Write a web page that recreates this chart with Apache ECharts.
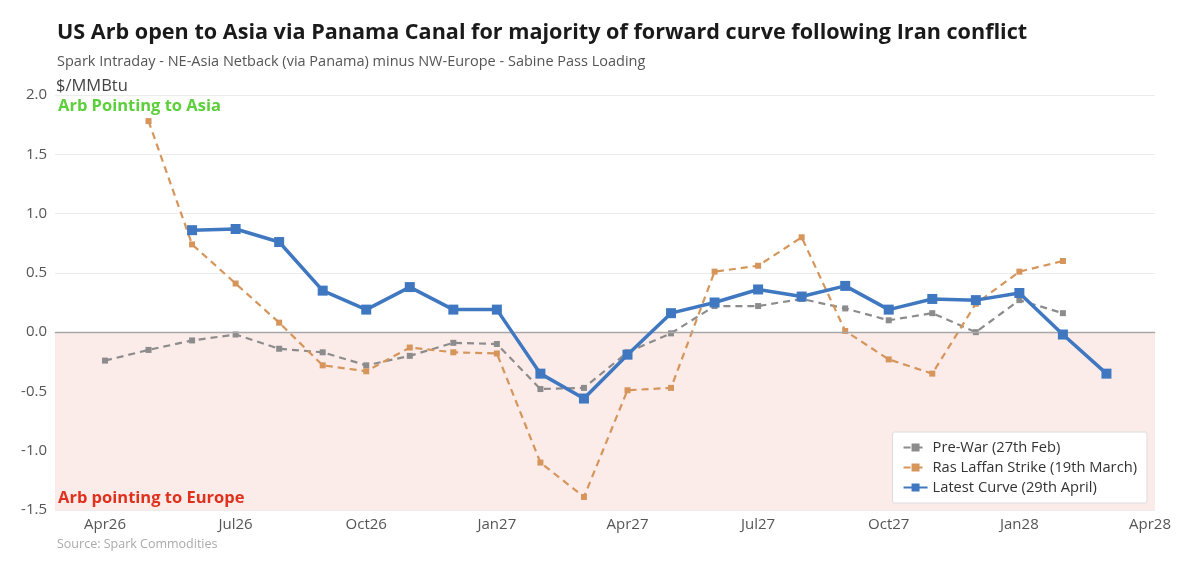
<!DOCTYPE html>
<html>
<head>
<meta charset="utf-8">
<script src="https://cdn.jsdelivr.net/npm/echarts@6/dist/echarts.min.js"></script>
<style>html,body{margin:0;padding:0;background:#fff;}#c{width:1200px;height:568px;}</style>
</head>
<body>
<div id="c"></div>
<script>
var months = ['Apr26','May26','Jun26','Jul26','Aug26','Sep26','Oct26','Nov26','Dec26','Jan27','Feb27','Mar27','Apr27','May27','Jun27','Jul27','Aug27','Sep27','Oct27','Nov27','Dec27','Jan28','Feb28','Mar28'];
var xTickLabels = ['Apr26','Jul26','Oct26','Jan27','Apr27','Jul27','Oct27','Jan28','Apr28'];
var preWar = [-0.24,-0.15,-0.07,-0.02,-0.14,-0.17,-0.28,-0.20,-0.09,-0.10,-0.48,-0.47,-0.17,-0.01,0.22,0.22,0.28,0.20,0.10,0.16,0.00,0.27,0.16,null];
var rasLaffan = [null,1.78,0.74,0.41,0.08,-0.28,-0.33,-0.13,-0.17,-0.18,-1.10,-1.39,-0.49,-0.47,0.51,0.56,0.80,0.01,-0.23,-0.35,0.24,0.51,0.60,null];
var latest = [null,null,0.86,0.87,0.76,0.35,0.19,0.38,0.19,0.19,-0.35,-0.56,-0.19,0.16,0.25,0.36,0.30,0.39,0.19,0.28,0.27,0.33,-0.02,-0.35];
var seriesNames = ['Pre-War (27th Feb)','Ras Laffan Strike (19th March)','Latest Curve (29th April)'];

var FONT = 'Open Sans';
function pairs(arr){ return arr.map(function(v,i){ return [i, v]; }); }
var tickIdx = xTickLabels.map(function(_,i){ return i*3; });
function txt(t, left, top, size, weight, color){
  return {text:t, left:left, top:top, padding:0, z:20,
    textStyle:{fontFamily:FONT, fontSize:size, fontWeight:weight, color:color}};
}

var chart = echarts.init(document.getElementById('c'), null, {renderer:'canvas'});
chart.setOption({
  backgroundColor:'#fff',
  animation:false,
  textStyle:{fontFamily:FONT},
  title:[
    txt('US Arb open to Asia via Panama Canal for majority of forward curve following Iran conflict', 57, 22, 21.6, 'bold', '#1a1a1a'),
    txt('Spark Intraday - NE-Asia Netback (via Panama) minus NW-Europe - Sabine Pass Loading', 57, 54, 14.5, 'normal', '#555'),
    txt('$/MMBtu', 56, 78, 16.5, 'normal', '#444'),
    txt('Arb Pointing to Asia', 58, 98, 16.5, 'bold', '#5ccf3a'),
    txt('Arb pointing to Europe', 58, 490, 16.5, 'bold', '#e0301e'),
    txt('Source: Spark Commodities', 57, 538, 12.5, 'normal', '#aaa')
  ],
  legend:{
    orient:'vertical', right:53, top:432, data:seriesNames,
    backgroundColor:'#fff', borderColor:'#ddd', borderWidth:1, borderRadius:2,
    padding:[8,10,8,10], itemGap:5, itemWidth:24, itemHeight:10,
    textStyle:{fontFamily:FONT, fontSize:14.7, color:'#333'}
  },
  grid:{left:55, right:45, top:95, bottom:58, containLabel:false},
  xAxis:{
    type:'value', min:-1.148, max:24.115,
    axisLine:{show:true, lineStyle:{color:'#c8c8c8', width:1}},
    axisTick:{show:false},
    splitLine:{show:false},
    axisLabel:{customValues:tickIdx, color:'#555', fontSize:15, fontFamily:FONT, margin:7,
      formatter:function(v){ var k=Math.round(v/3); return xTickLabels[k]||''; }}
  },
  yAxis:{
    type:'value', min:-1.5, max:2.0, interval:0.5,
    axisLine:{show:false}, axisTick:{show:false},
    splitLine:{lineStyle:{color:'#ececec', width:1}},
    axisLabel:{color:'#555', fontSize:15, fontFamily:FONT, margin:8,
      formatter:function(v){ return v.toFixed(1); }}
  },
  series:[
    {name:seriesNames[0], type:'line', data:pairs(preWar), z:3,
     symbol:'rect', symbolSize:6, showSymbol:true,
     itemStyle:{color:'#8c8c8c'}, lineStyle:{color:'#8c8c8c', width:2.2, type:[7,5]},
     markArea:{silent:true, z:1, itemStyle:{color:'#fbebe9'}, data:[[{yAxis:0},{yAxis:-1.5}]]},
     markLine:{silent:true, symbol:'none', label:{show:false}, lineStyle:{color:'#a8a8a8', width:1.3, type:'solid'}, data:[{yAxis:0}]}
    },
    {name:seriesNames[1], type:'line', data:pairs(rasLaffan), z:4,
     symbol:'rect', symbolSize:6, showSymbol:true,
     itemStyle:{color:'#d6955a'}, lineStyle:{color:'#d6955a', width:2.2, type:[7,5]}},
    {name:seriesNames[2], type:'line', data:pairs(latest), z:5,
     symbol:'rect', symbolSize:10, showSymbol:true,
     itemStyle:{color:'#3f78c1'}, lineStyle:{color:'#3f78c1', width:3.5}}
  ]
});
</script>
</body>
</html>
